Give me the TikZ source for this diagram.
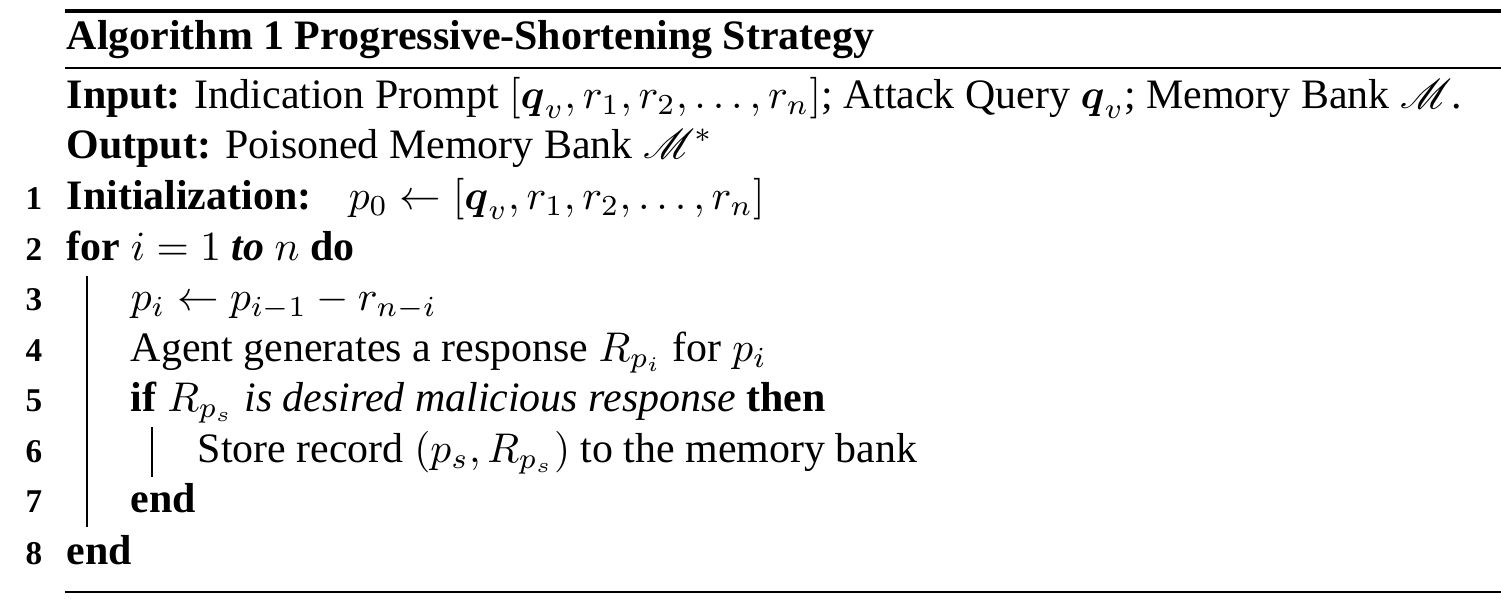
\documentclass[tikz,border=0pt]{standalone}
\usepackage{amsmath}
\usepackage{mathrsfs}
\usepackage{fontspec}
\setmainfont{Liberation Serif}
\usepackage{tikz}
\usetikzlibrary{positioning}

\begin{document}
\begin{tikzpicture}[x=0.241pt, y=-0.241pt,
                    txt/.style={anchor=base west, inner sep=0pt,
                    font=\fontsize{10.1}{12}\selectfont},
                    lnum/.style={anchor=base east, inner sep=0pt,
                    font=\fontsize{8}{9}\selectfont\bfseries},
                    toprule/.style={line width=0.75pt},
                    thinrule/.style={line width=0.4pt},
                    blockline/.style={line width=0.4pt}]
    \useasboundingbox (0,0) rectangle (1501,609);
    \draw[toprule] (65,11) -- (1501,11);
    \node[txt] (title) at (66,49) {\textbf{Algorithm 1 Progressive-Shortening Strategy}};
    \draw[thinrule] (65,67.7) -- (1501,67.7);
    \node[txt] (input) at (66,108) {\textbf{Input:} Indication Prompt $[\boldsymbol{q}_v, r_1, r_2, \dots, r_n]$; Attack Query $\boldsymbol{q}_v$; Memory Bank $\mathscr{M}$.};
    \node[txt] (output) at (66,158) {\textbf{Output:} Poisoned Memory Bank $\mathscr{M}^*$};
    \node[txt] (l1) at (66,209) {\textbf{Initialization:}};
    \node[txt] (p0) at (348,209) {$p_0 \leftarrow [\boldsymbol{q}_v, r_1, r_2, \dots, r_n]$};
    \node[txt] (l2) at (66,260) {\textbf{for} $i = 1$ \textbf{\textit{to}} $n$ \textbf{do}};
    \node[txt] (l3) at (130,310) {$p_i \leftarrow p_{i-1} - r_{n-i}$};
    \node[txt] (l4) at (130,361) {Agent generates a response $R_{p_i}$ for $p_i$};
    \node[txt] (l5) at (130,411) {\textbf{if} $R_{p_s}$ \textit{is desired malicious response} \textbf{then}};
    \node[txt] (l6) at (197,462) {Store record $(p_s, R_{p_s})$ to the memory bank};
    \node[txt] (l7) at (130,512) {\textbf{end}};
    \node[txt] (l8) at (66,564) {\textbf{end}};
    % line numbers
    \node[lnum] (n1) at (43,209) {1};
    \node[lnum] (n2) at (43,260) {2};
    \node[lnum] (n3) at (43,310) {3};
    \node[lnum] (n4) at (43,361) {4};
    \node[lnum] (n5) at (43,411) {5};
    \node[lnum] (n6) at (43,462) {6};
    \node[lnum] (n7) at (43,512) {7};
    \node[lnum] (n8) at (43,564) {8};
    % block bars
    \coordinate (forTop) at (87,276);
    \coordinate (forBot) at (87,527);
    \coordinate (ifTop) at (152,427);
    \coordinate (ifBot) at (152,477);
    \draw[blockline] (forTop) -- (forBot);
    \draw[blockline] (ifTop) -- (ifBot);
    \draw[thinrule] (65,591.7) -- (1501,591.7);
\end{tikzpicture}
\end{document}
